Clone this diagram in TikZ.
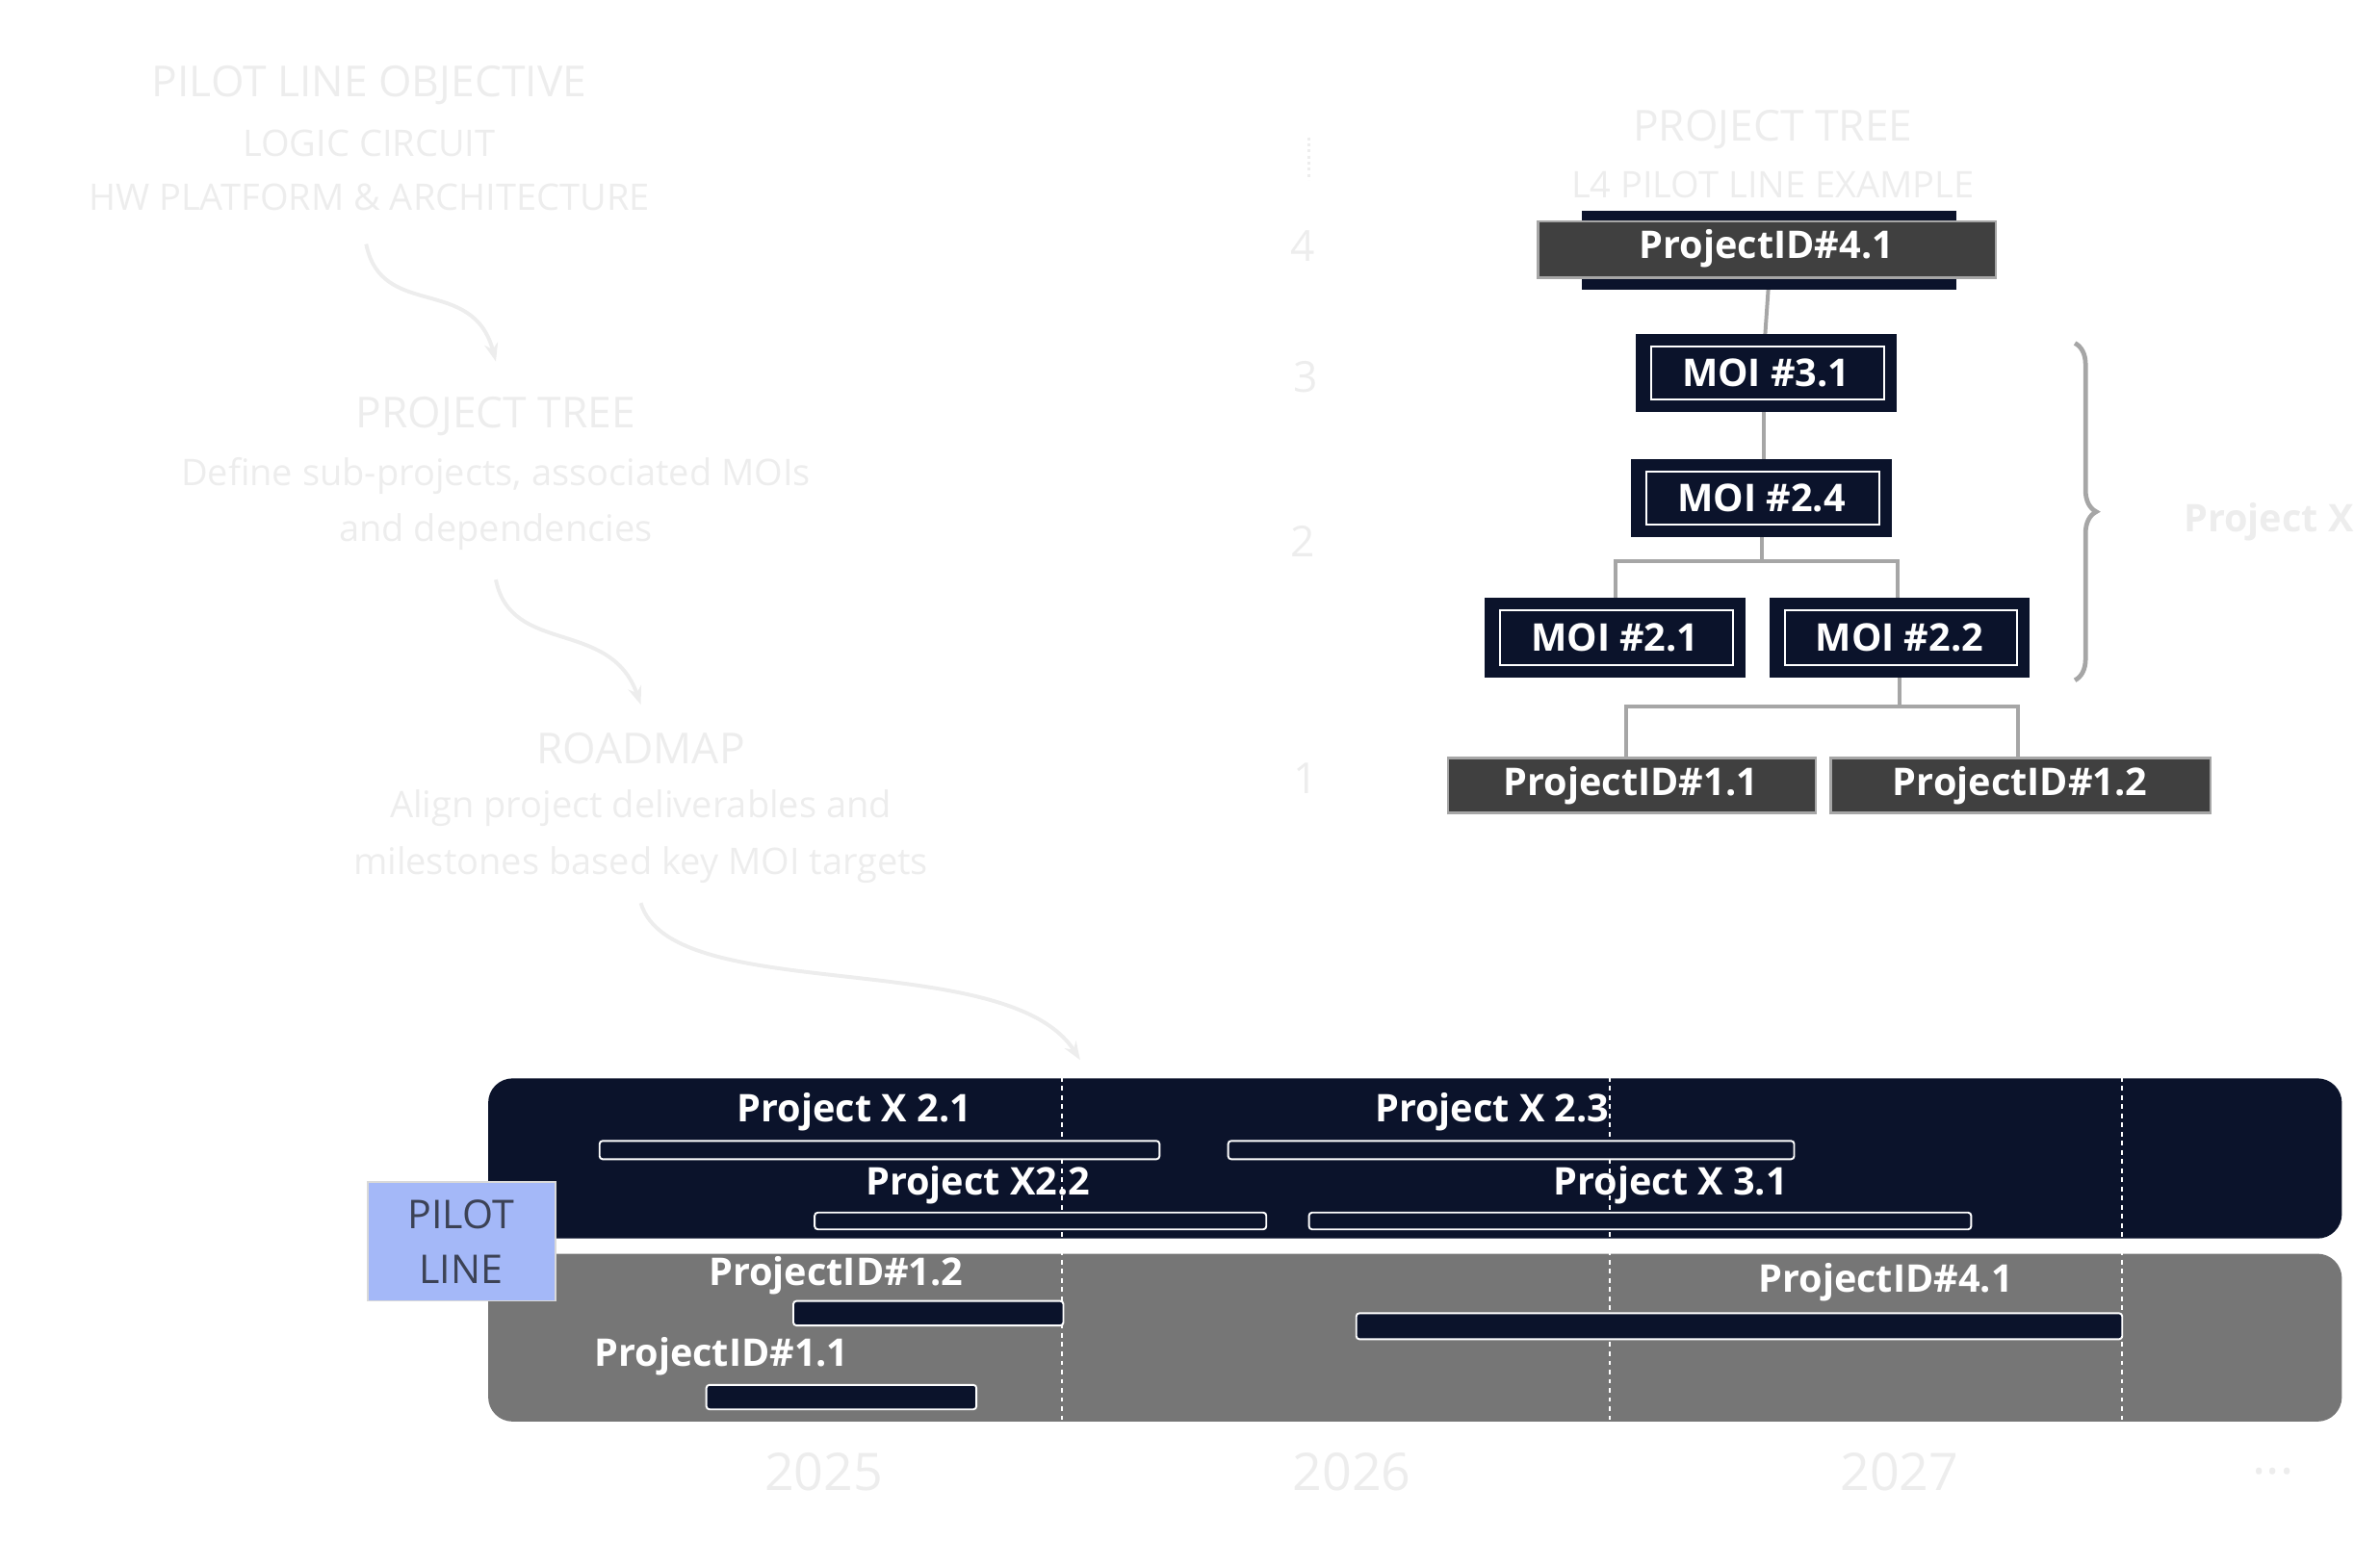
\documentclass[tikz,border=0pt]{standalone}
\usepackage{fontspec}
\setmainfont{Open Sans}
\usetikzlibrary{decorations.pathreplacing,arrows.meta}
\definecolor{navy}{HTML}{0B132B}
\definecolor{dgray}{HTML}{404040}
\definecolor{mgray}{HTML}{767676}
\definecolor{faint}{HTML}{EDEDED}
\definecolor{peri}{HTML}{A4B8F8}
\definecolor{conn}{HTML}{A6A6A6}
\tikzset{
 x=1pt,y=-1pt,
 ft/.style={text=faint,font=\fontsize{28}{30}\selectfont},
 fts/.style={text=faint,font=\fontsize{24}{26}\selectfont},
 farrow/.style={draw=faint,line width=2.5pt,-{Stealth[length=12pt]}},
 moi/.style={draw=navy,fill=navy,line width=0pt},
 lbl/.style={text=white,font=\bfseries\fontsize{25}{27}\selectfont},
 pid/.style={draw=conn,fill=dgray,line width=1.5pt},
 cn/.style={draw=conn,line width=2.5pt},
 bar/.style={draw=white,fill=navy,line width=1.2pt,rounded corners=2pt},
 vdash/.style={draw=white,dashed,line width=1.5pt},
 yr/.style={text=faint,font=\fontsize{34}{36}\selectfont}
}
\begin{document}
\begin{tikzpicture}
\useasboundingbox (0,0) rectangle (1560,1010);
% left faint flow
\node[ft] (t1) at (242,56) {PILOT LINE OBJECTIVE};
\node[fts] (t2) at (242,94) {LOGIC CIRCUIT};
\node[fts] (t3) at (242,129) {HW PLATFORM \& ARCHITECTURE};
\node[ft] (t4) at (325,273) {PROJECT TREE};
\node[fts] (t5) at (325,312) {Define sub-projects, associated MOIs};
\node[fts] (t6) at (325,349) {and dependencies};
\node[ft] (t7) at (420,491) {ROADMAP};
\node[fts] (t8) at (420,530) {Align project deliverables and};
\node[fts] (t9) at (420,567) {milestones based key MOI targets};
\coordinate (a1) at (240,160); \coordinate (a2) at (325,237);
\draw[farrow] (a1) .. controls (250,210) and (310,180) .. (a2);
\coordinate (b1) at (325,380); \coordinate (b2) at (420,462);
\draw[farrow] (b1) .. controls (335,430) and (400,405) .. (b2);
\coordinate (c1) at (420,592); \coordinate (c2) at (708,695);
\draw[farrow] (c1) .. controls (440,660) and (660,620) .. (c2);
% right tree
\node[ft] (r1) at (1162,85) {PROJECT TREE};
\node[fts] (r2) at (1162,121) {L4 PILOT LINE EXAMPLE};
\draw[faint,line width=2pt,dotted] (858,90) -- (858,118);
\node[ft] (l4) at (854,161) {4};
\node[ft] (l3) at (856,247) {3};
\node[ft] (l2) at (854,355) {2};
\node[ft] (l1) at (856,510) {1};
% connectors
\draw[cn] (1159,190) -- (1157,219);
\draw[cn] (1156,270) -- (1156,301);
\draw[cn] (1155,352) -- (1155,368) (1059,392) -- (1059,368) -- (1244,368) -- (1244,392);
\draw[cn] (1245,444) -- (1245,463) (1066,497) -- (1066,463) -- (1323,463) -- (1323,497);
% P4.1
\fill[navy] (1037,138) rectangle (1282,190);
\draw[pid] (1008,145) rectangle (1308,182);
\node[lbl] (p41) at (1158,163) {ProjectID\#4.1};
% MOIs
\foreach \n/\xa/\ya/\xb/\yb/\t in {m31/1072/219/1243/270/MOI \#3.1, m24/1069/301/1240/352/MOI \#2.4, m21/973/392/1144/444/MOI \#2.1, m22/1160/392/1330/444/MOI \#2.2}{
 \fill[navy] (\xa,\ya) rectangle (\xb,\yb);
 \draw[white,line width=1.2pt] (\xa+10,\ya+8) rectangle (\xb-8,\yb-8);
 \node[lbl] (\n) at ({(\xa+\xb)/2},{(\ya+\yb)/2}) {\t};
}
\draw[pid] (949,497) rectangle (1190,533);
\node[lbl] (p11) at (1069,515) {ProjectID\#1.1};
\draw[pid] (1200,497) rectangle (1449,533);
\node[lbl] (p12) at (1324,515) {ProjectID\#1.2};
\draw[conn,line width=3pt,decorate,decoration={brace,amplitude=14pt}] (1360,225) -- (1360,446);
\node[text=faint,font=\bfseries\fontsize{25}{27}\selectfont] (px) at (1487,342) {Project X};
% roadmap
\fill[navy,rounded corners=16pt] (320,707) rectangle (1535,812);
\fill[mgray,rounded corners=16pt] (320,822) rectangle (1535,932);
\draw[draw=white!70!gray,fill=peri,line width=1pt] (241,775) rectangle (364,853);
\node[text=navy!80,font=\fontsize{26}{36}\selectfont,align=center] (pl) at (302,814) {PILOT\\LINE};
\draw[vdash] (696,700) -- (696,955);
\draw[vdash] (1055,700) -- (1055,955);
\draw[vdash] (1391,700) -- (1391,960);
\draw[bar] (393,748) rectangle (760,760);
\draw[bar] (805,748) rectangle (1176,760);
\draw[bar] (534,795) rectangle (830,806);
\draw[bar] (858,795) rectangle (1292,806);
\draw[bar] (520,853) rectangle (697,869);
\draw[bar] (889,861) rectangle (1391,878);
\draw[bar] (463,908) rectangle (640,924);
\node[lbl] (x21) at (560,729) {Project X 2.1};
\node[lbl] (x23) at (978,729) {Project X 2.3};
\node[lbl] (x22) at (641,777) {Project X2.2};
\node[lbl] (x31) at (1095,777) {Project X 3.1};
\node[lbl] (r12) at (548,836) {ProjectID\#1.2};
\node[lbl] (r41) at (1236,841) {ProjectID\#4.1};
\node[lbl] (r11) at (473,889) {ProjectID\#1.1};
\node[yr] (y5) at (540,965) {2025};
\node[yr] (y6) at (886,965) {2026};
\node[yr] (y7) at (1245,965) {2027};
\node[yr] (yd) at (1490,965) {...};
\end{tikzpicture}
\end{document}
